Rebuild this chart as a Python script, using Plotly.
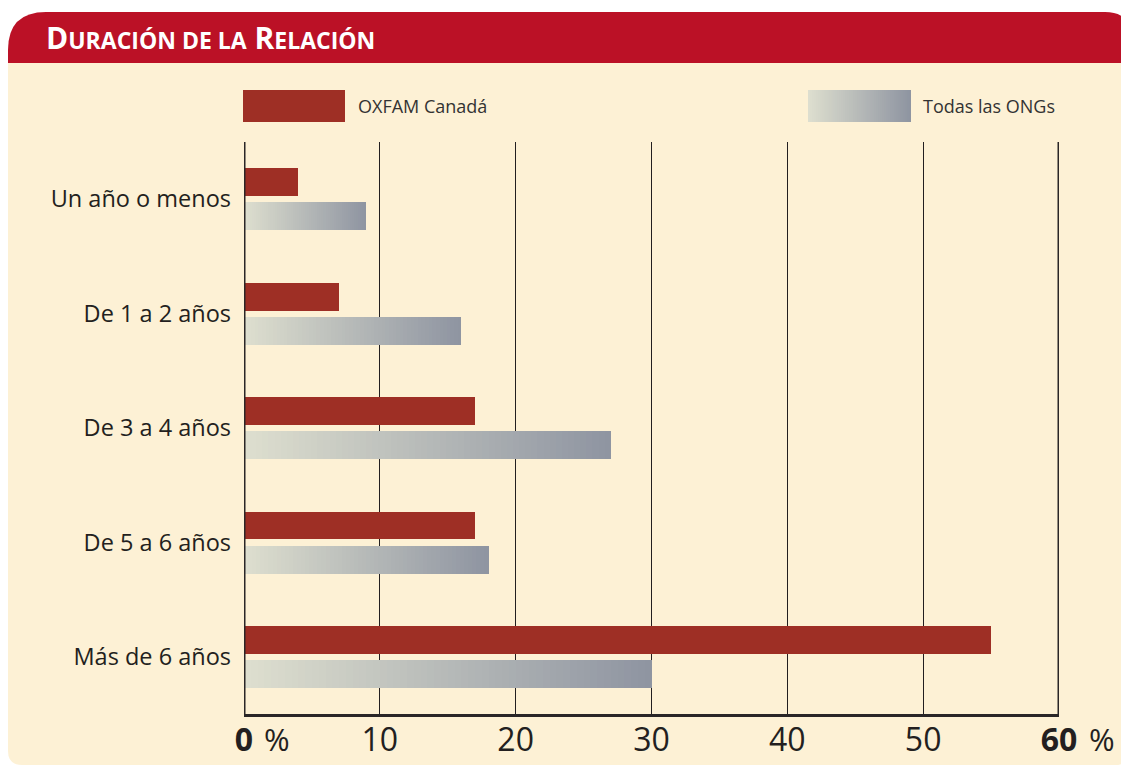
import plotly.graph_objects as go

# ---------------- data ----------------
categories = ["Un año o menos", "De 1 a 2 años", "De 3 a 4 años", "De 5 a 6 años", "Más de 6 años"]
oxfam = [4, 7, 17, 17, 55]
todas = [9, 16, 27, 18, 30]
series_names = ["OXFAM Canadá", "Todas las ONGs"]
tick_vals = [0, 10, 20, 30, 40, 50, 60]
tick_labels = ["<b>0</b>", "10", "20", "30", "40", "50", "<b>60</b>"]
title_text = ("D<span style='font-size:23px'>URACIÓN DE LA</span> "
              "R<span style='font-size:23px'>ELACIÓN</span>")

# ---------------- style ----------------
PAGE_W, PAGE_H = 1129, 769
OFF = 8                      # default body margin of the page
W, H = PAGE_W - OFF, PAGE_H - OFF
L, R, T, B = 244, 1059, 142, 714   # plot area in page pixels
RED_HDR = "#bb1126"
CREAM = "#fdf1d5"
RED_BAR = "#9e2f25"
G0 = (222, 223, 207)
G1 = (142, 148, 161)
TXT = "#231f20"
FONT = "Open Sans"


def px(x):
    return (x - L) / (R - L)


def py(y):
    return (B - y) / (B - T)


def grad(t):
    return "rgb(%d,%d,%d)" % tuple(round(a + (b - a) * t) for a, b in zip(G0, G1))


fig = go.Figure()

fig.add_trace(go.Bar(
    y=categories, x=oxfam, orientation="h", name=series_names[0],
    marker=dict(color=RED_BAR, line=dict(width=0)),
    offset=-0.27, width=0.243, showlegend=False, hoverinfo="x+y"))

N = 60
for k in range(N):
    ext = 1.6 if k < N - 1 else 1.0
    fig.add_trace(go.Bar(
        y=categories,
        x=[v / N * ext for v in todas],
        base=[v * k / N for v in todas],
        orientation="h", name=series_names[1],
        marker=dict(color=grad((k + 0.5) / N), line=dict(width=0)),
        offset=0.028, width=0.245, showlegend=False, hoverinfo="skip"))

shapes = []
# cream body
x0, x1, y0, y1, r = 8, 1129, 60, 765, 14
shapes.append(dict(
    type="path", xref="paper", yref="paper", layer="below",
    path=(f"M{px(x0)},{py(y0)} L{px(x1)},{py(y0)} L{px(x1)},{py(y1-r)} "
          f"Q{px(x1)},{py(y1)} {px(x1-r)},{py(y1)} L{px(x0+r)},{py(y1)} "
          f"Q{px(x0)},{py(y1)} {px(x0)},{py(y1-r)} Z"),
    fillcolor=CREAM, line=dict(width=0)))
# red header
hx0, hx1, hy0, hy1, rl, rr = 8, 1131, 12, 63, 38, 26
shapes.append(dict(
    type="path", xref="paper", yref="paper", layer="below",
    path=(f"M{px(hx0)},{py(hy1)} L{px(hx0)},{py(hy0+rl)} "
          f"Q{px(hx0)},{py(hy0)} {px(hx0+rl)},{py(hy0)} L{px(hx1-rr)},{py(hy0)} "
          f"Q{px(hx1)},{py(hy0)} {px(hx1)},{py(hy0+rr)} L{px(hx1)},{py(hy1)} Z"),
    fillcolor=RED_HDR, line=dict(width=0)))
# legend swatches
shapes.append(dict(type="rect", xref="paper", yref="paper",
                   x0=px(243), x1=px(345), y0=py(122), y1=py(90),
                   fillcolor=RED_BAR, line=dict(width=0)))
M = 50
sx0, sx1 = 808, 911
for k in range(M):
    a = sx0 + (sx1 - sx0) * k / M
    b = sx0 + (sx1 - sx0) * (k + 1.6) / M if k < M - 1 else sx1
    shapes.append(dict(type="rect", xref="paper", yref="paper",
                       x0=px(a), x1=px(b), y0=py(122), y1=py(90),
                       fillcolor=grad((k + 0.5) / M), line=dict(width=0)))
# frame lines at 0 and 60
for xv in (tick_vals[0], tick_vals[-1]):
    shapes.append(dict(type="line", xref="x", yref="paper", x0=xv, x1=xv,
                       y0=0, y1=1, line=dict(color="#2a2627", width=3)))

annotations = [
    dict(text=title_text, xref="paper", yref="paper", x=px(44), y=py(38),
         xanchor="left", yanchor="middle", showarrow=False,
         font=dict(family=FONT, size=30, color="white", weight="bold")),
    dict(text=series_names[0], xref="paper", yref="paper", x=px(356), y=py(106),
         xanchor="left", yanchor="middle", showarrow=False,
         font=dict(family=FONT, size=18, color="#333")),
    dict(text=series_names[1], xref="paper", yref="paper", x=px(921), y=py(106),
         xanchor="left", yanchor="middle", showarrow=False,
         font=dict(family=FONT, size=18, color="#333")),
    dict(text="%", xref="x", yref="paper", x=tick_vals[0], y=py(739),
         xanchor="left", yanchor="middle", showarrow=False, xshift=18,
         font=dict(family=FONT, size=31, color=TXT)),
    dict(text="%", xref="x", yref="paper", x=tick_vals[-1], y=py(739),
         xanchor="left", yanchor="middle", showarrow=False, xshift=28,
         font=dict(family=FONT, size=31, color=TXT)),
]

fig.update_layout(
    width=W, height=H,
    margin=dict(l=L - OFF, r=PAGE_W - R, t=T - OFF, b=PAGE_H - B),
    paper_bgcolor="white", plot_bgcolor="rgba(0,0,0,0)",
    barmode="overlay", bargap=0,
    shapes=shapes, annotations=annotations,
    font=dict(family=FONT, color=TXT),
    xaxis=dict(range=[0, 60], tickvals=tick_vals, ticktext=tick_labels,
               showgrid=True, gridcolor="#231f20", gridwidth=1.3,
               zeroline=False, showline=True, linecolor="#2a2627", linewidth=3,
               ticks="", ticklabelstandoff=-4, layer="above traces", fixedrange=True,
               automargin=False,
               tickfont=dict(family=FONT, size=32, color=TXT)),
    yaxis=dict(range=[4.5, -0.5], type="category", showgrid=False,
               showline=False, ticks="", ticklabelstandoff=12, automargin=False,
               tickfont=dict(family=FONT, size=23.5, color=TXT), fixedrange=True),
)

fig.write_html("out.html")
